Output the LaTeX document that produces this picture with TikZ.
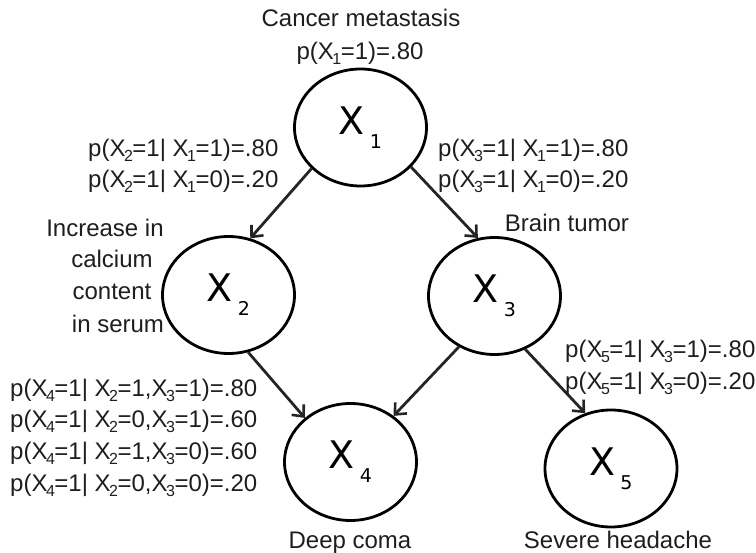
\documentclass[tikz,border=0pt]{standalone}
\usepackage{fontspec}
\setmainfont{Liberation Sans}
\newfontfamily\nodefont{DejaVu Sans}
\usetikzlibrary{shapes.geometric,arrows.meta}
\newcommand\sbs[1]{\kern-1.5pt\raisebox{-5pt}{\fontsize{16}{16}\selectfont #1}\kern-0.5pt}
\newcommand\nlab[1]{X\kern5pt\raisebox{-14pt}{\fontsize{19}{19}\selectfont #1}}
\definecolor{txt}{HTML}{1E1E1E}
\definecolor{arr}{HTML}{252525}
\tikzset{
  bn/.style={ellipse, draw=black, line width=2.8pt, minimum width=132pt, minimum height=117pt, inner sep=0pt, font=\nodefont\fontsize{38}{38}\selectfont},
  lab/.style={text=txt, font=\fontsize{24}{24}\selectfont, inner sep=0pt, anchor=base},
  labl/.style={lab, anchor=base west},
  edge/.style={draw=arr, line width=2.8pt, -{Straight Barb[length=9pt,width=16pt,line width=2.6pt]}}
}
\begin{document}
\begin{tikzpicture}[x=1pt,y=-1pt]
\useasboundingbox (0,0) rectangle (756,553);
\node[bn] (x1) at (360.5,127.5) {\nlab{1}};
\node[bn] (x2) at (228.5,295) {\nlab{2}};
\node[bn] (x3) at (494.5,296) {\nlab{3}};
\node[bn] (x4) at (350.5,462) {\nlab{4}};
\node[bn] (x5) at (611,468.5) {\nlab{5}};

\draw[edge] (x1.220) -- (x2.69);
\draw[edge] (x1.322) -- (x3.106);
\draw[edge] (x2.289) -- (x4.136);
\draw[edge] (x3.235) -- (x4.47);
\draw[edge] (x3.300) -- (x5.115);

\node[lab] (t1) at (361,27) {Cancer metastasis};
\node[lab] (t1p) at (360,60) {p(X\sbs{1}=1)=.80};

\node[labl] (t2a) at (88,157) {p(X\sbs{2}=1| X\sbs{1}=1)=.80};
\node[labl] (t2b) at (88,188) {p(X\sbs{2}=1| X\sbs{1}=0)=.20};

\node[labl] (t3a) at (438,157) {p(X\sbs{3}=1| X\sbs{1}=1)=.80};
\node[labl] (t3b) at (438,188) {p(X\sbs{3}=1| X\sbs{1}=0)=.20};
\node[lab] (t3) at (567,232) {Brain tumor};

\node[lab] (t2l1) at (105,237) {Increase in};
\node[lab] (t2l2) at (112,268) {calcium};
\node[lab] (t2l3) at (112,300) {content};
\node[lab] (t2l4) at (118,333) {in serum};

\node[labl] (t4a) at (10,397) {p(X\sbs{4}=1| X\sbs{2}=1,X\sbs{3}=1)=.80};
\node[labl] (t4b) at (10,428) {p(X\sbs{4}=1| X\sbs{2}=0,X\sbs{3}=1)=.60};
\node[labl] (t4c) at (10,460) {p(X\sbs{4}=1| X\sbs{2}=1,X\sbs{3}=0)=.60};
\node[labl] (t4d) at (10,492) {p(X\sbs{4}=1| X\sbs{2}=0,X\sbs{3}=0)=.20};

\node[labl] (t5a) at (565,358) {p(X\sbs{5}=1| X\sbs{3}=1)=.80};
\node[labl] (t5b) at (565,390) {p(X\sbs{5}=1| X\sbs{3}=0)=.20};

\node[lab] (t4) at (350,549) {Deep coma};
\node[lab] (t5) at (618,549) {Severe headache};
\end{tikzpicture}
\end{document}
